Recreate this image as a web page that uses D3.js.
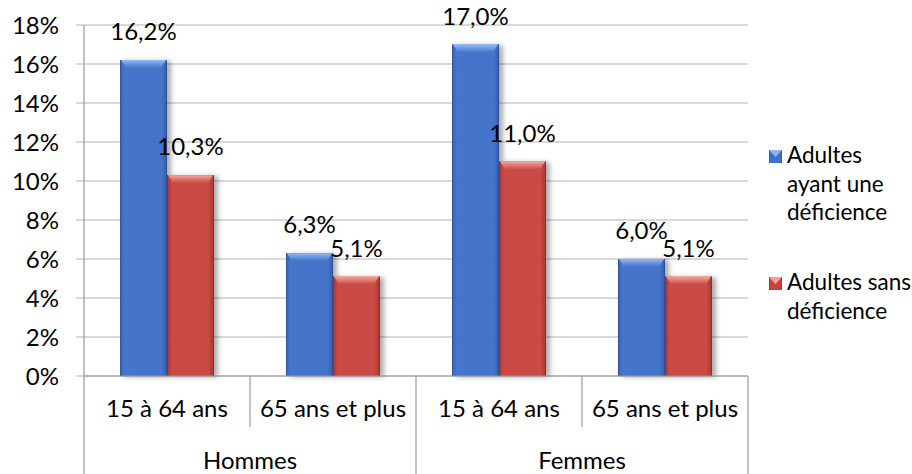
<!DOCTYPE html>
<html>
<head>
<meta charset="utf-8">
<script src="https://cdn.jsdelivr.net/npm/d3@7"></script>
<style>
  body { margin: 0; background: #fff; }
  text { font-family: Lato, "Open Sans", sans-serif; fill: #000; }
</style>
</head>
<body>
<script>
// data
var groups = ["Hommes", "Femmes"];
var ages = ["15 à 64 ans", "65 ans et plus"];
var seriesNames = ["Adultes ayant une déficience", "Adultes sans déficience"];
var avecDeficience = [16.2, 6.3, 17.0, 6.0];
var sansDeficience = [10.3, 5.1, 11.0, 5.1];
var yTicks = [0, 2, 4, 6, 8, 10, 12, 14, 16, 18];

var W = 912, H = 474;
var mLeft = 84, mRight = 748, mTop = 25, mBottom = 376;

var svg = d3.select("body").append("svg")
    .attr("width", W).attr("height", H);

var defs = svg.append("defs");

// colours for the two series
var colors = [
  {edge: "#2b56a8", mid: "#3d70cb", light: "#8ab6f6", dark: "#22499a"},
  {edge: "#a22e2a", mid: "#cb433d", light: "#f7a096", dark: "#8e2623"}
];

colors.forEach(function(c, i){
    var g = defs.append("linearGradient").attr("id", "grad" + i)
        .attr("x1", "0").attr("x2", "1").attr("y1", "0").attr("y2", "0");
    g.append("stop").attr("offset", "0").attr("stop-color", c.edge);
    g.append("stop").attr("offset", "0.1").attr("stop-color", c.mid);
    g.append("stop").attr("offset", "0.88").attr("stop-color", c.mid);
    g.append("stop").attr("offset", "1").attr("stop-color", c.edge);

    var t = defs.append("linearGradient").attr("id", "top" + i)
        .attr("x1", "0").attr("x2", "0").attr("y1", "0").attr("y2", "1");
    t.append("stop").attr("offset", "0").attr("stop-color", c.light);
    t.append("stop").attr("offset", "1").attr("stop-color", c.mid);
});

var f = defs.append("filter").attr("id", "shadow")
    .attr("x", "-20%").attr("y", "-10%").attr("width", "150%").attr("height", "120%");
f.append("feDropShadow").attr("dx", 4).attr("dy", 1).attr("stdDeviation", 2.5)
    .attr("flood-color", "#000").attr("flood-opacity", 0.35);

// scales
var cats = d3.range(avecDeficience.length);
var x0 = d3.scaleBand().domain(cats).range([mLeft, mRight]).paddingInner(0).paddingOuter(0);
var x1 = d3.scaleBand().domain([0, 1]).range([0, x0.bandwidth()]).paddingInner(0).paddingOuter(0.766);
var y = d3.scaleLinear().domain([0, 18]).range([mBottom, mTop]);

// gridlines
svg.append("g").selectAll("line").data(yTicks).enter().append("line")
    .attr("x1", mLeft - 8).attr("x2", mRight)
    .attr("y1", function(d){ return y(d); }).attr("y2", function(d){ return y(d); })
    .attr("stroke", "#b3b3b3").attr("stroke-width", 1.2);

// y labels
svg.append("g").selectAll("text").data(yTicks).enter().append("text")
    .attr("x", 59).attr("y", function(d){ return y(d); })
    .attr("dy", "0.36em").attr("text-anchor", "end")
    .style("font-size", "24px")
    .text(function(d){ return d + "%"; });

// bars
var series = [avecDeficience, sansDeficience];
var fmt = function(v){ return d3.format(".1f")(v).replace(".", ",") + "%"; };

series.forEach(function(vals, s){
    var gS = svg.append("g");
    vals.forEach(function(v, i){
        var bx = x0(i) + x1(s), bw = x1.bandwidth(), by = y(v), bh = y(0) - y(v);
        var g = gS.append("g").attr("filter", "url(#shadow)");
        var inner = g.append("g").attr("opacity", 0.93);
        inner.append("rect").attr("x", bx).attr("y", by).attr("width", bw).attr("height", bh)
            .attr("fill", "url(#grad" + s + ")");
        // bevel on top
        inner.append("polygon")
            .attr("points", [[bx + 1, by], [bx + bw - 1, by], [bx + bw - 6, by + 8], [bx + 6, by + 8]].join(" "))
            .attr("fill", "url(#top" + s + ")");
        inner.append("line").attr("x1", bx + 0.5).attr("x2", bx + 0.5).attr("y1", by).attr("y2", by + bh)
            .attr("stroke", colors[s].dark).attr("stroke-width", 1);
        inner.append("line").attr("x1", bx + bw - 0.5).attr("x2", bx + bw - 0.5).attr("y1", by).attr("y2", by + bh)
            .attr("stroke", colors[s].dark).attr("stroke-width", 1);
    });
});

// value labels
series.forEach(function(vals, s){
    svg.append("g").selectAll("text").data(vals).enter().append("text")
        .attr("x", function(d, i){ return x0(i) + x1(s) + x1.bandwidth() / 2; })
        .attr("y", function(d){ return y(d) - 20; })
        .attr("text-anchor", "middle")
        .style("font-size", "24px")
        .text(fmt);
});

// category axis
var axisCol = "#9a9a9a";
svg.append("line").attr("x1", mLeft).attr("x2", mRight).attr("y1", mBottom).attr("y2", mBottom)
    .attr("stroke", axisCol).attr("stroke-width", 1.2);
svg.append("line").attr("x1", mLeft).attr("x2", mLeft).attr("y1", mTop).attr("y2", H)
    .attr("stroke", axisCol).attr("stroke-width", 1.2);

cats.forEach(function(i){
    var xe = x0(i) + x0.bandwidth();
    var full = (i % 2 === 1);
    svg.append("line").attr("x1", xe).attr("x2", xe)
        .attr("y1", mBottom).attr("y2", full ? H : 427)
        .attr("stroke", axisCol).attr("stroke-width", 1.2);
    svg.append("text")
        .attr("x", x0(i) + x0.bandwidth() / 2).attr("y", 417)
        .attr("text-anchor", "middle").style("font-size", "24px")
        .text(ages[i % 2]);
});

groups.forEach(function(gName, gi){
    svg.append("text")
        .attr("x", x0(gi * 2) + x0.bandwidth()).attr("y", 469)
        .attr("text-anchor", "middle").style("font-size", "24px")
        .text(gName);
});

// legend
var legendLines = [["Adultes", "ayant une", "déficience"], ["Adultes sans", "déficience"]];
var legendY = [163, 290];
legendLines.forEach(function(lines, s){
    var lg = svg.append("g");
    lg.append("rect").attr("x", 769).attr("y", legendY[s] - 13).attr("width", 13).attr("height", 13)
        .attr("fill", "url(#grad" + s + ")");
    lg.append("polygon")
        .attr("points", [[769, legendY[s] - 13], [782, legendY[s] - 13], [775.5, legendY[s] - 6]].join(" "))
        .attr("fill", colors[s].light);
    lines.forEach(function(t, k){
        lg.append("text").attr("x", 787).attr("y", legendY[s] + k * 28.5)
            .style("font-size", "22.5px").text(t);
    });
});
</script>
</body>
</html>
